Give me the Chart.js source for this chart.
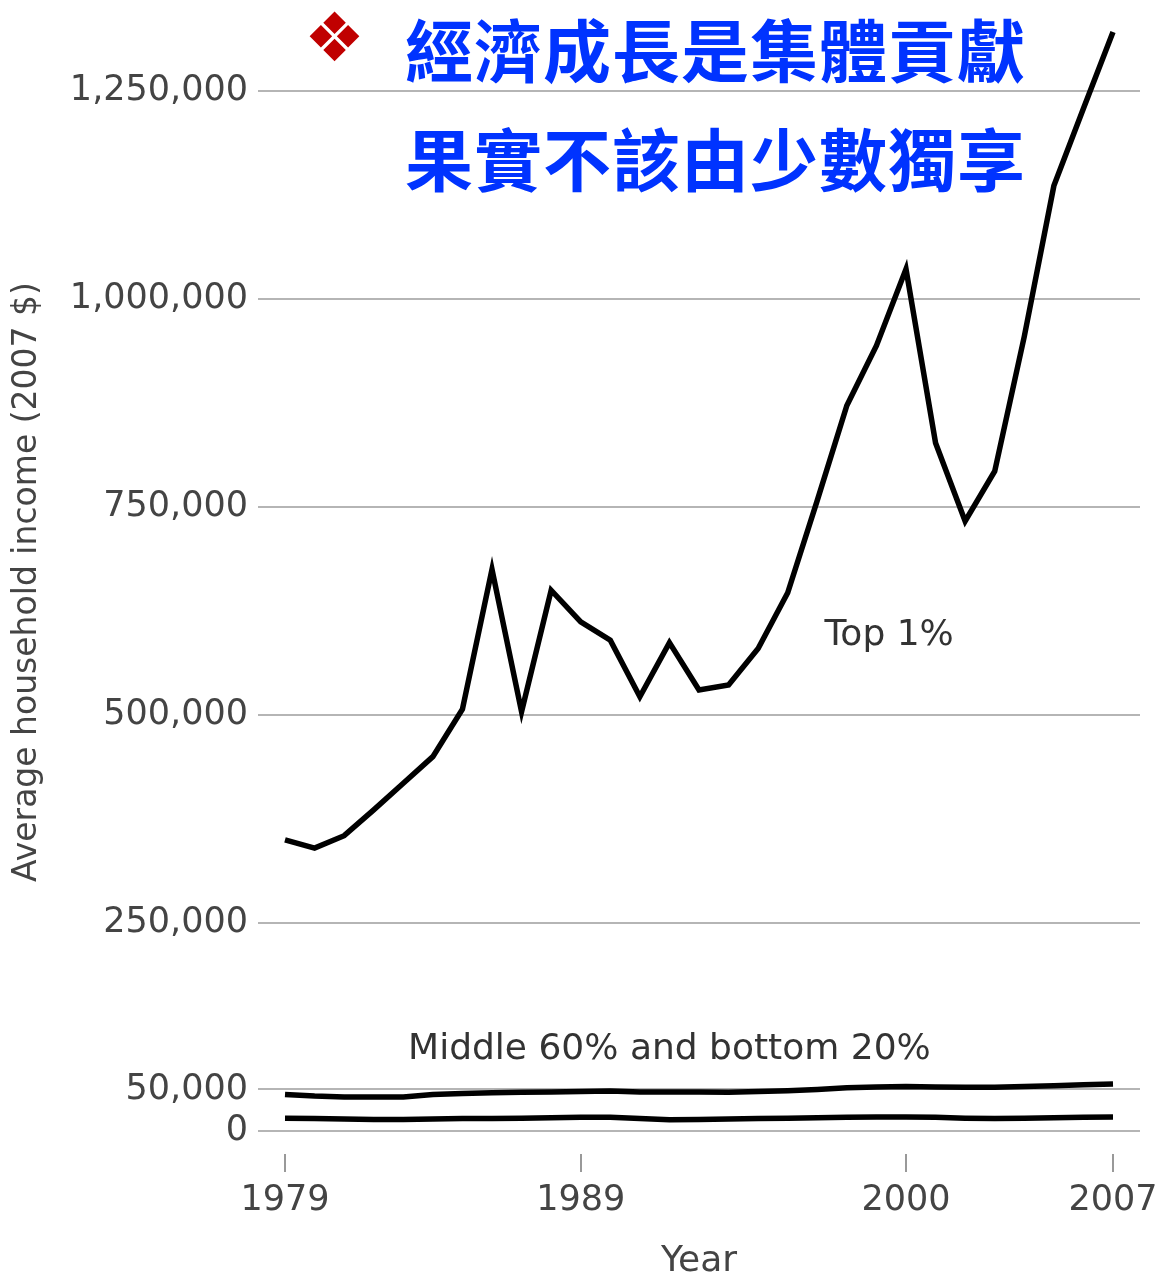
<!DOCTYPE html>
<html>
<head>
<meta charset="utf-8">
<script src="https://cdn.jsdelivr.net/npm/chart.js@4.4.0/dist/chart.umd.min.js"></script>
<style>
  html, body { margin: 0; padding: 0; background: #ffffff; }
  #wrap { position: relative; width: 1157px; height: 1280px; }
  canvas { position: absolute; left: 0; top: 0; }
  .ttl { position: absolute; font-family: "Noto Sans CJK TC", sans-serif; font-weight: 700;
         color: #0033ff; font-size: 68px; line-height: 68px; letter-spacing: 1px; white-space: nowrap; }
  .dia { position: absolute; font-family: "DejaVu Sans", sans-serif; color: #c00000;
         font-size: 68px; line-height: 68px; }
</style>
</head>
<body>
<div id="wrap">
  <canvas id="c" width="1157" height="1280"></canvas>
  <div class="dia" style="left:304px; top:4px;">❖</div>
  <div class="ttl" style="left:405px; top:14px;">經濟成長是集體貢獻</div>
  <div class="ttl" style="left:405px; top:123px;">果實不該由少數獨享</div>
</div>
<script>
const years = [1979,1980,1981,1982,1983,1984,1985,1986,1987,1988,1989,1990,1991,1992,1993,1994,1995,1996,1997,1998,1999,2000,2001,2002,2003,2004,2005,2006,2007];
const top1 = [350000,340000,355000,386000,418000,450000,507000,675000,504000,650000,612000,590000,522000,587000,530000,536000,580000,647000,758000,872000,944000,1036000,827000,733000,793000,955000,1136000,1229000,1321000];
const middle60 = [44000,42000,41000,41000,41000,44000,45000,46000,46500,47000,47500,48000,47000,47000,47000,46500,47500,48500,50000,52000,53000,53500,53000,52500,52500,53500,54500,55500,56500];
const bottom20 = [15500,15000,14500,14000,14000,14500,15000,15000,15500,16000,16500,16500,15000,13500,14000,14500,15000,15500,16000,16500,17000,17000,16500,15500,15000,15500,16000,16500,17000];
const yTicks = [0, 50000, 250000, 500000, 750000, 1000000, 1250000];
const xTicks = [1979, 1989, 2000, 2007];
const noteTexts = ['Top 1%', 'Middle 60% and bottom 20%'];
const noteYears = [1999.43, 1992.0];
const noteValues = [596000, 97400];

const toPts = arr => arr.map((v, i) => ({x: years[i], y: v}));
const lineStyle = {borderColor: '#000000', borderWidth: 5.5, pointRadius: 0, tension: 0, fill: false, borderJoinStyle: 'miter', borderCapStyle: 'butt'};

const notesPlugin = {
  id: 'notes',
  afterDatasetsDraw(chart) {
    const {ctx, scales: {x, y}} = chart;
    ctx.save();
    ctx.font = '36px "DejaVu Sans"';
    ctx.fillStyle = '#333333';
    ctx.textAlign = 'center';
    ctx.textBaseline = 'middle';
    noteTexts.forEach((t, i) => {
      ctx.fillText(t, x.getPixelForValue(noteYears[i]), y.getPixelForValue(noteValues[i]));
    });
    ctx.restore();
  }
};

const noPad = s => { s.paddingTop = 0; s.paddingBottom = 0; s.paddingLeft = 0; s.paddingRight = 0; };

new Chart(document.getElementById('c'), {
  type: 'line',
  data: {
    datasets: [
      Object.assign({label: 'Top 1%', data: toPts(top1)}, lineStyle),
      Object.assign({label: 'Middle 60%', data: toPts(middle60)}, lineStyle),
      Object.assign({label: 'Bottom 20%', data: toPts(bottom20)}, lineStyle)
    ]
  },
  options: {
    responsive: false,
    animation: false,
    devicePixelRatio: 1,
    layout: {padding: {top: 10, right: 17, bottom: 0, left: 0}},
    plugins: {legend: {display: false}, tooltip: {enabled: false}, title: {display: false}},
    scales: {
      x: {
        type: 'linear',
        min: 1978.087,
        max: 2007.913,
        afterBuildTicks: s => { s.ticks = xTicks.map(v => ({value: v})); },
        afterFit: s => { s.height = 126; noPad(s); },
        border: {display: false},
        grid: {drawOnChartArea: false, drawTicks: true, tickLength: 18, color: '#999999', lineWidth: 2},
        ticks: {font: {family: 'DejaVu Sans', size: 35, lineHeight: 1.2}, color: '#444444', padding: 8,
                maxRotation: 0, autoSkip: false, callback: v => String(v)},
        title: {display: true, text: 'Year', font: {family: 'DejaVu Sans', size: 36, lineHeight: 1},
                color: '#444444', padding: 0}
      },
      y: {
        type: 'linear',
        min: -27600,
        max: 1347400,
        afterBuildTicks: s => { s.ticks = yTicks.map(v => ({value: v})); },
        afterFit: s => { s.width = 258; noPad(s); },
        border: {display: false},
        grid: {drawTicks: false, color: '#b5b5b5', lineWidth: 2},
        ticks: {font: {family: 'DejaVu Sans', size: 35}, color: '#444444', padding: 10,
                autoSkip: false, callback: v => v.toLocaleString('en-US')},
        title: {display: true, text: 'Average household income (2007 $)',
                font: {family: 'DejaVu Sans', size: 33, lineHeight: 1}, color: '#444444',
                padding: {top: 11, bottom: 0}}
      }
    }
  },
  plugins: [notesPlugin]
});
</script>
</body>
</html>
